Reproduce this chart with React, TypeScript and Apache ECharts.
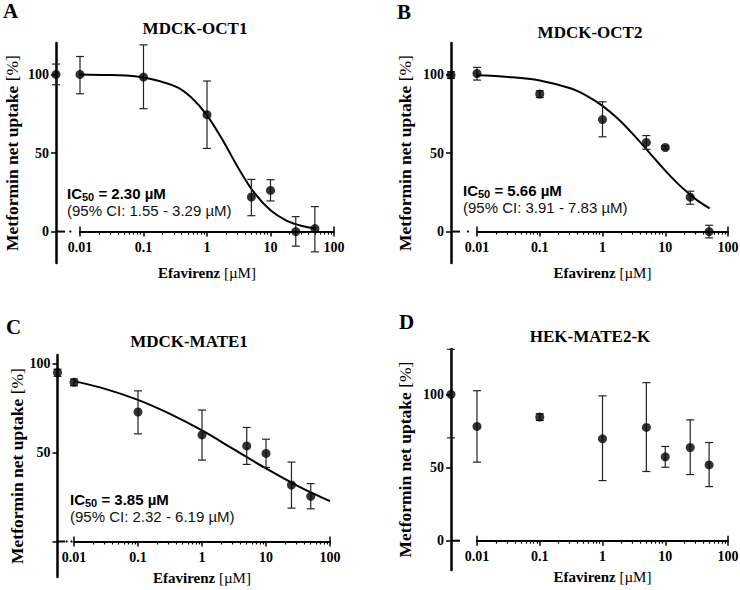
import React, { useEffect, useRef } from 'react';
import * as echarts from 'echarts';

const SERIF = 'Liberation Serif';
const SANS = 'Liberation Sans';

// ---------- data ----------
const tickLabels = ['0.01', '0.1', '1', '10', '100'];
const conc = [0.01, 0.1, 1, 5, 10, 25, 50]; // Efavirenz [µM]

// Panel A: MDCK-OCT1
const ctrlA = [100, 93.4, 106.6]; // mean, low, high (0 µM control)
const meanA = [100, 98.3, 74.4, 22, 26.2, 0, 1.9];
const lowA = [87.7, 78.2, 52.9, 10.1, 19.5, -9.3, -12.9];
const highA = [111.4, 118.8, 95.8, 33.2, 33, 9.5, 15.9];
const curveXA = [0.0042, 0.01, 0.0316, 0.1, 0.316, 0.562, 1, 1.78, 3.16, 5.62, 10, 17.8, 31.6, 50];
const curveYA = [100, 99.9, 99.6, 98.1, 92.4, 85.5, 74, 57.9, 40, 24.4, 13.5, 7, 3.5, 2.0];

// Panel B: MDCK-OCT2
const ctrlB = [99.6, 97.5, 101.7];
const meanB = [100.6, 87.5, 71.3, 56.7, 53.5, 21.9, 0];
const lowB = [96.4, 85.3, 60.3, 52.4, 52.5, 17.4, -4];
const highB = [104.5, 89.6, 82.6, 61.1, 54.5, 25.7, 4];
const curveXB = [0.004, 0.01, 0.0316, 0.1, 0.316, 0.562, 1, 1.78, 3.16, 5.62, 10, 17.8, 31.6, 51];
const curveYB = [99.6, 99.4, 98.4, 96.2, 91, 86.4, 80, 71.6, 61.4, 50.1, 38.8, 28.6, 20.2, 14.8];

// Panel C: MDCK-MATE1
const ctrlC = [95.1, 93, 97];
const meanC = [89.6, 72.9, 60, 53.8, 49.6, 31.8, 25.4];
const lowC = [87.7, 60.6, 45.8, 43.4, 41.7, 18.8, 18.4];
const highC = [91.5, 84.8, 74, 64.2, 57.6, 44.7, 32.6];
const curveXC = [0.01, 0.0316, 0.1, 0.316, 1, 3.16, 10, 31.6, 100];
const curveYC = [90.3, 85.8, 79.7, 71.8, 62.5, 51.8, 41.1, 31.2, 22.7];

// Panel D: HEK-MATE2-K
const ctrlD = [100, 70.3, 130.8];
const meanD = [78.1, 84.5, 69.6, 77.4, 57.3, 63.7, 51.8];
const lowD = [53.7, 82.2, 41.1, 47.3, 50.2, 45.2, 37];
const highD = [102.5, 86.8, 99, 108, 64.4, 82.6, 67.1];

const panels = [
  {
    letter: 'A', title: 'MDCK-OCT1', ctrl: ctrlA, mean: meanA, low: lowA, high: highA,
    curveX: curveXA, curveY: curveYA, ic50: '2.30', ci: '1.55 - 3.29',
    grid: { left: 80, top: 43, width: 254, height: 220 }, yMin: -20, yMax: 120, yOffset: 24,
    yLabels: [0, 50, 100], yNameGap: 35, xNameGap: 34,
    letterPos: [3, 11], titlePos: [195, 28], icPos: [67, 193], dots: [0.6],
  },
  {
    letter: 'B', title: 'MDCK-OCT2', ctrl: ctrlB, mean: meanB, low: lowB, high: highB,
    curveX: curveXB, curveY: curveYB, ic50: '5.66', ci: '3.91 - 7.83',
    grid: { left: 477, top: 43, width: 251, height: 220 }, yMin: -20, yMax: 120, yOffset: 26,
    yLabels: [0, 50, 100], yNameGap: 37, xNameGap: 34,
    letterPos: [397, 12], titlePos: [590, 32], icPos: [463, 190], dots: [0.65],
  },
  {
    letter: 'C', title: 'MDCK-MATE1', ctrl: ctrlC, mean: meanC, low: lowC, high: highC,
    curveX: curveXC, curveY: curveYC, ic50: '3.85', ci: '2.32 - 6.19',
    grid: { left: 74, top: 355, width: 256, height: 222 }, yMin: -20, yMax: 105, yOffset: 16.5,
    yLabels: [50, 100], yNameGap: 31, xNameGap: 29,
    letterPos: [6, 327], titlePos: [189, 341], icPos: [70, 499], dots: [0.55, 0.85],
  },
  {
    letter: 'D', title: 'HEK-MATE2-K', ctrl: ctrlD, mean: meanD, low: lowD, high: highD,
    curveX: null, curveY: null, ic50: null, ci: null,
    grid: { left: 477, top: 349, width: 251, height: 221 }, yMin: -20, yMax: 131, yOffset: 26,
    yLabels: [0, 50, 100], yNameGap: 37, xNameGap: 29,
    letterPos: [399, 322], titlePos: [590, 336], icPos: [0, 0], dots: [],
  },
];

const minorTicks: number[] = [];
for (let d = -2; d < 2; d++) {
  for (let k = 2; k <= 9; k++) minorTicks.push(d + Math.log10(k));
}

const AXIS_COLOR = '#000';

let measureCtx: CanvasRenderingContext2D | null = null;
function textWidth(text: string, font: string): number {
  if (!measureCtx) measureCtx = document.createElement('canvas').getContext('2d');
  if (!measureCtx) return text.length * 8;
  measureCtx.font = font;
  return measureCtx.measureText(text).width;
}

function buildOption() {
  const grid: any[] = [];
  const xAxis: any[] = [];
  const yAxis: any[] = [];
  const series: any[] = [];
  const graphic: any[] = [];

  panels.forEach((p, g) => {
    grid.push({ ...p.grid, outerBoundsMode: 'none', containLabel: false });
    // move x axis up from grid bottom to the y = 0 line
    const xOff = -(p.grid.height * (0 - p.yMin)) / (p.yMax - p.yMin);
    const xNameRich = {
      b: { fontFamily: SERIF, fontWeight: 'bold', fontSize: 15, color: '#000' },
      r: { fontFamily: SERIF, fontWeight: 'normal', fontSize: 15, color: '#000' },
    };
    const yNameRich = {
      b: { fontFamily: SERIF, fontWeight: 'bold', fontSize: 17.5, color: '#000' },
      r: { fontFamily: SERIF, fontWeight: 'normal', fontSize: 17.5, color: '#000' },
    };
    // main x axis
    xAxis.push({
      type: 'value', gridIndex: g, min: -2, max: 2, interval: 1, position: 'bottom', offset: xOff,
      axisLine: { show: true, onZero: false, lineStyle: { color: AXIS_COLOR, width: 2 } },
      axisTick: { show: true, length: 5, lineStyle: { color: AXIS_COLOR, width: 1.5 } },
      axisLabel: {
        formatter: (v: number) => tickLabels[Math.round(v) + 2],
        fontFamily: SERIF, fontWeight: 'bold', fontSize: 14, color: '#000', margin: 9,
      },
      splitLine: { show: false },
      name: '{b|Efavirenz}{r| [µM]}', nameLocation: 'middle', nameGap: p.xNameGap,
      nameTextStyle: { rich: xNameRich },
    });
    // minor ticks axis
    xAxis.push({
      type: 'value', gridIndex: g, min: -2, max: 2, position: 'bottom', offset: xOff,
      axisLine: { show: false, onZero: false },
      axisTick: { show: true, customValues: minorTicks, length: 3, lineStyle: { color: AXIS_COLOR, width: 1.2 } },
      axisLabel: { show: false },
      splitLine: { show: false },
    });
    // end ticks crossing upward
    xAxis.push({
      type: 'value', gridIndex: g, min: -2, max: 2, position: 'bottom', offset: xOff,
      axisLine: { show: false, onZero: false },
      axisTick: { show: true, inside: true, customValues: [-2, 2], length: 5, lineStyle: { color: AXIS_COLOR, width: 1.5 } },
      axisLabel: { show: false },
      splitLine: { show: false },
    });
    yAxis.push({
      type: 'value', gridIndex: g, min: p.yMin, max: p.yMax, position: 'left', offset: p.yOffset,
      axisLine: { show: true, onZero: false, lineStyle: { color: AXIS_COLOR, width: 2.5 } },
      axisTick: { show: true, customValues: [0, 50, 100], length: 5, lineStyle: { color: AXIS_COLOR, width: 1.5 } },
      axisLabel: {
        customValues: p.yLabels, fontFamily: SERIF, fontWeight: 'bold', fontSize: 14, color: '#000', margin: 7,
      },
      splitLine: { show: false },
      name: '{b|Metformin net uptake}{r| [%]}', nameLocation: 'middle', nameGap: p.yNameGap,
      nameTextStyle: { rich: yNameRich },
    });

    const xi = g * 3;
    const ctrlX = -2 - p.yOffset / (p.grid.width / 4);

    if (p.curveX && p.curveY) {
      series.push({
        type: 'line', xAxisIndex: xi, yAxisIndex: g, silent: true, clip: false,
        showSymbol: false, symbol: 'none', smooth: 0.35,
        lineStyle: { color: '#000', width: 2 },
        data: p.curveX.map((c, i) => [Math.log10(c), p.curveY![i]]),
        z: 3,
      });
    }

    const errData = [[ctrlX, p.ctrl[1], p.ctrl[2]]].concat(
      conc.map((c, i) => [Math.log10(c), p.low[i], p.high[i]])
    );
    series.push({
      type: 'custom', xAxisIndex: xi, yAxisIndex: g, silent: true, clip: false,
      encode: { x: 0, y: [1, 2] },
      data: errData,
      z: 4,
      renderItem: (params: any, api: any) => {
        const x = api.value(0);
        const a = api.coord([x, api.value(2)]);
        const b = api.coord([x, api.value(1)]);
        const st = { stroke: '#222', lineWidth: 1.2 };
        const w = 4;
        return {
          type: 'group',
          children: [
            { type: 'line', shape: { x1: a[0], y1: a[1], x2: b[0], y2: b[1] }, style: st },
            { type: 'line', shape: { x1: a[0] - w, y1: a[1], x2: a[0] + w, y2: a[1] }, style: st },
            { type: 'line', shape: { x1: b[0] - w, y1: b[1], x2: b[0] + w, y2: b[1] }, style: st },
          ],
        };
      },
    });

    const ptData = [[ctrlX, p.ctrl[0]]].concat(conc.map((c, i) => [Math.log10(c), p.mean[i]]));
    series.push({
      type: 'scatter', xAxisIndex: xi, yAxisIndex: g, silent: true, clip: false,
      symbol: 'circle', symbolSize: 9, itemStyle: { color: '#000' },
      data: ptData, z: 5,
    });

    // axis break decoration between y axis and 0.01
    const off = p.yOffset;
    const dots = p.dots;
    series.push({
      type: 'custom', xAxisIndex: xi, yAxisIndex: g, silent: true, clip: false,
      data: [[-2, 0]], z: 1,
      renderItem: (params: any, api: any) => {
        const pt = api.coord([-2, 0]);
        const ax = pt[0] - off;
        const children: any[] = [
          { type: 'line', shape: { x1: ax, y1: pt[1], x2: ax + Math.min(9, off * 0.45), y2: pt[1] }, style: { stroke: '#000', lineWidth: 2 } },
        ];
        dots.forEach((f) => {
          children.push({ type: 'circle', shape: { cx: ax + f * off, cy: pt[1], r: 1.1 }, style: { fill: '#000' } });
        });
        return { type: 'group', children };
      },
    });

    // texts
    graphic.push({
      type: 'text', x: p.letterPos[0], y: p.letterPos[1],
      style: { text: p.letter, fontFamily: SERIF, fontWeight: 'bold', fontSize: 21, fill: '#000', align: 'left', verticalAlign: 'middle' },
    });
    graphic.push({
      type: 'text', x: p.titlePos[0], y: p.titlePos[1],
      style: { text: p.title, fontFamily: SERIF, fontWeight: 'bold', fontSize: 17, fill: '#000', align: 'center', verticalAlign: 'middle' },
    });
    if (p.ic50) {
      const x0 = p.icPos[0];
      const y0 = p.icPos[1];
      const wIC = textWidth('IC', `bold 15px "${SANS}"`);
      const w50 = textWidth('50', `bold 11px "${SANS}"`);
      const rest = ` = ${p.ic50} µM`;
      graphic.push({
        type: 'text', x: x0, y: y0, z: 10,
        style: { text: 'IC', fontFamily: SANS, fontWeight: 'bold', fontSize: 15, fill: '#000', align: 'left', verticalAlign: 'middle' },
      });
      graphic.push({
        type: 'text', x: x0 + wIC, y: y0 + 4, z: 10,
        style: { text: '50', fontFamily: SANS, fontWeight: 'bold', fontSize: 11, fill: '#000', align: 'left', verticalAlign: 'middle' },
      });
      graphic.push({
        type: 'text', x: x0 + wIC + w50, y: y0, z: 10,
        style: { text: rest, fontFamily: SANS, fontWeight: 'bold', fontSize: 15, fill: '#000', align: 'left', verticalAlign: 'middle' },
      });
      graphic.push({
        type: 'text', x: x0, y: y0 + 17, z: 10,
        style: {
          text: `(95% CI: ${p.ci} µM)`, fontFamily: SANS, fontSize: 15, fill: '#111',
          align: 'left', verticalAlign: 'middle',
        },
      });
    }
  });

  return {
    animation: false,
    backgroundColor: '#fff',
    grid, xAxis, yAxis, series, graphic,
  };
}

export default function App() {
  const ref = useRef<HTMLDivElement>(null);
  useEffect(() => {
    if (!ref.current) return;
    const chart = echarts.init(ref.current, undefined, { renderer: 'svg' });
    chart.setOption(buildOption() as any);
    return () => chart.dispose();
  }, []);
  return (
    <div
      ref={ref}
      style={{ position: 'absolute', left: 0, top: 0, width: 740, height: 590, background: '#fff' }}
    />
  );
}
